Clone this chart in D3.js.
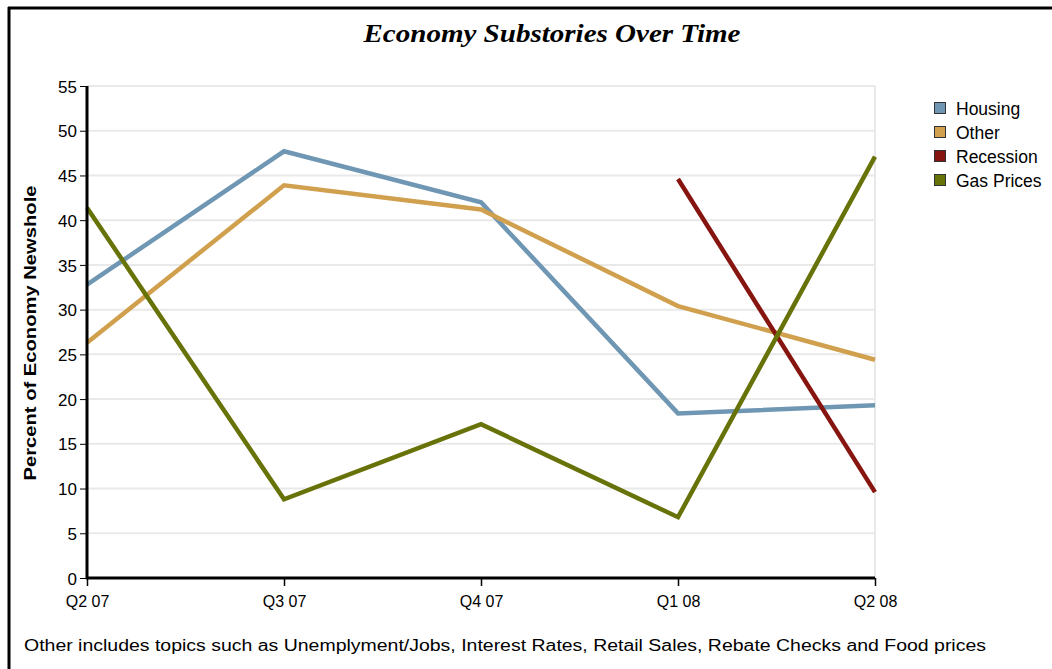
<!DOCTYPE html>
<html>
<head>
<meta charset="utf-8">
<script src="https://cdn.jsdelivr.net/npm/d3@7"></script>
<style>
  html, body { margin: 0; padding: 0; background: #fff; }
  svg { display: block; }
</style>
</head>
<body>
<svg id="chart" width="1052" height="669"></svg>
<script>
// Quarterly share of economy coverage by substory
const quarters = ["Q2 07", "Q3 07", "Q4 07", "Q1 08", "Q2 08"];
const housing   = [32.8, 47.7, 42.0, 18.4, 19.3];
const other     = [26.3, 43.9, 41.2, 30.4, 24.4];
const recession = [null, null, null, 44.6, 9.6];
const gasPrices = [41.4, 8.8, 17.2, 6.8, 47.1];
const yTicks = [0, 5, 10, 15, 20, 25, 30, 35, 40, 45, 50, 55];

const seriesNames  = ["Housing", "Other", "Recession", "Gas Prices"];
const seriesValues = [housing, other, recession, gasPrices];
const seriesColors = ["#6f97b4", "#d0a04e", "#861510", "#677208"];

const svg = d3.select("#chart");
const W = 1052, H = 669;
const plot = { left: 87, right: 875, top: 86, bottom: 578 };
const labelFont = "'Liberation Sans', Arial, sans-serif";

// outer frame (top and left edges)
svg.append("line").attr("x1", 8).attr("x2", W).attr("y1", 8).attr("y2", 8)
  .attr("stroke", "#000").attr("stroke-width", 3);
svg.append("line").attr("x1", 9).attr("x2", 9).attr("y1", 7).attr("y2", H)
  .attr("stroke", "#000").attr("stroke-width", 3);

const x = d3.scalePoint().domain(quarters).range([plot.left, plot.right]);
const y = d3.scaleLinear().domain([0, 55]).range([plot.bottom, plot.top]);

// horizontal gridlines
svg.append("g").selectAll("line").data(yTicks.filter(d => d > 0)).join("line")
  .attr("x1", plot.left).attr("x2", plot.right)
  .attr("y1", d => y(d)).attr("y2", d => y(d))
  .attr("stroke", "#e9e9e9").attr("stroke-width", 2);
// right border of plot
svg.append("line").attr("x1", plot.right).attr("x2", plot.right)
  .attr("y1", plot.top).attr("y2", plot.bottom)
  .attr("stroke", "#e9e9e9").attr("stroke-width", 2);

// series lines
const line = d3.line()
  .defined(d => d.v != null)
  .x(d => x(d.q)).y(d => y(d.v));
seriesValues.forEach((vals, i) => {
  const pts = quarters.map((q, j) => ({ q, v: vals[j] }));
  svg.append("path").datum(pts)
    .attr("d", line)
    .attr("fill", "none")
    .attr("stroke", seriesColors[i])
    .attr("stroke-width", 4.5)
    .attr("stroke-linejoin", "miter");
});

// y axis
const yAxis = svg.append("g").attr("transform", `translate(${plot.left},0)`)
  .call(d3.axisLeft(y).tickValues(yTicks).tickSize(7).tickPadding(3));
yAxis.attr("font-size", null).attr("font-family", null);
yAxis.select(".domain").attr("stroke", "#000").attr("stroke-width", 3)
  .attr("d", `M0,${plot.top}V${plot.bottom}`);
yAxis.selectAll(".tick line").attr("stroke", "#000").attr("stroke-width", 1);
yAxis.selectAll(".tick text")
  .style("font-family", labelFont).style("font-size", "17px")
  .attr("fill", "#000").attr("dy", "0.36em");

// x axis
const xAxis = svg.append("g").attr("transform", `translate(0,${plot.bottom})`)
  .call(d3.axisBottom(x).tickSize(8).tickPadding(10));
xAxis.attr("font-size", null).attr("font-family", null);
xAxis.select(".domain").attr("stroke", "#000").attr("stroke-width", 3)
  .attr("d", `M${plot.left - 1},0H${plot.right}`);
xAxis.selectAll(".tick line").attr("stroke", "#000").attr("stroke-width", 1.5);
xAxis.selectAll(".tick text")
  .style("font-family", labelFont).style("font-size", "16px")
  .attr("fill", "#000");

// title
svg.append("text")
  .attr("x", 552).attr("y", 42)
  .attr("text-anchor", "middle")
  .attr("font-family", "'Liberation Serif', 'Times New Roman', serif")
  .attr("font-style", "italic").attr("font-weight", "bold")
  .attr("font-size", 26)
  .attr("textLength", 377).attr("lengthAdjust", "spacingAndGlyphs")
  .text("Economy Substories Over Time");

// y axis title
svg.append("text")
  .attr("transform", `translate(36,333) rotate(-90)`)
  .attr("text-anchor", "middle")
  .attr("font-family", labelFont).attr("font-weight", "bold")
  .attr("font-size", 17)
  .attr("textLength", 295).attr("lengthAdjust", "spacingAndGlyphs")
  .text("Percent of Economy Newshole");

// legend
const legend = svg.append("g").attr("transform", "translate(934,102)");
seriesNames.forEach((name, i) => {
  const g = legend.append("g").attr("transform", `translate(0,${i * 24})`);
  g.append("rect").attr("x", 0.5).attr("y", 0.5).attr("width", 11).attr("height", 11)
    .attr("fill", seriesColors[i]).attr("stroke", "#333").attr("stroke-width", 1);
  g.append("text").attr("x", 22).attr("y", 12.5)
    .attr("font-family", labelFont).attr("font-size", 17.5)
    .attr("fill", "#000").text(name);
});

// footnote
svg.append("text")
  .attr("x", 24).attr("y", 651)
  .attr("font-family", labelFont).attr("font-size", 16)
  .attr("textLength", 962).attr("lengthAdjust", "spacingAndGlyphs")
  .text("Other includes topics such as Unemplyment/Jobs, Interest Rates, Retail Sales, Rebate Checks and Food prices");
</script>
</body>
</html>
